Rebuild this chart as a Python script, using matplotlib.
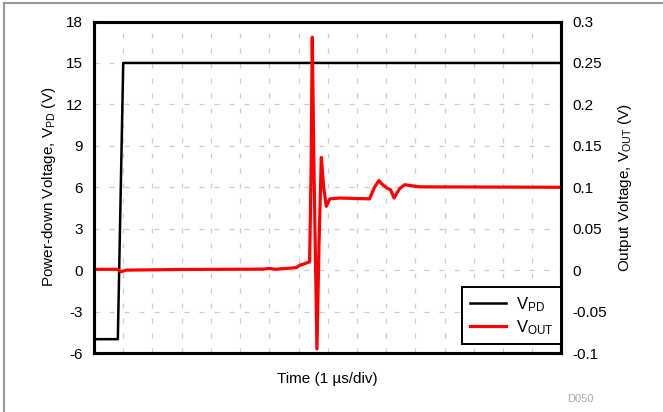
import matplotlib
matplotlib.use("Agg")
import matplotlib.pyplot as plt
from matplotlib.lines import Line2D

plt.rcParams['font.family'] = ['Liberation Sans', 'DejaVu Sans']
plt.rcParams['mathtext.default'] = 'regular'
plt.rcParams['axes.unicode_minus'] = False

# time axis in divisions (1 us/div)
t_pd = [0, 0.815, 1.0, 16]
v_pd = [-5, -5, 15, 15]

t_out = [0, 0.8, 0.93, 1.1, 3.0, 5.8, 6.0, 6.2, 6.92, 7.05, 7.15, 7.38, 7.43, 7.47,
         7.53, 7.63, 7.70, 7.78, 7.86, 7.95, 8.07, 8.4, 9.43, 9.6, 9.75, 9.85,
         10.03, 10.15, 10.27, 10.45, 10.63, 11.15, 16]
v_out = [0.001, 0.001, -0.002, 0.0, 0.0008, 0.0012, 0.002, 0.001, 0.003, 0.006, 0.007, 0.010, 0.12, 0.281,
         0.12, -0.095, 0.03, 0.136, 0.10, 0.077, 0.086, 0.087, 0.086, 0.100, 0.108, 0.104,
         0.099, 0.097, 0.087, 0.098, 0.103, 0.1005, 0.100]

left_ticks = list(range(-6, 19, 3))
right_ticks = [-0.1, -0.05, 0, 0.05, 0.1, 0.15, 0.2, 0.25, 0.3]
right_labels = ["-0.1", "-0.05", "0", "0.05", "0.1", "0.15", "0.2", "0.25", "0.3"]

fig = plt.figure(figsize=(6.63, 4.12), dpi=100)
ax = fig.add_axes([0.1418, 0.1432, 0.7051, 0.8046])
ax2 = ax.twinx()

ax.set_xlim(0, 16)
ax.set_ylim(-6, 18)
ax2.set_ylim(-0.1, 0.3)
ax.set_xticks(range(0, 17))
ax.set_xticklabels([])
ax.set_yticks(left_ticks)
ax2.set_yticks(right_ticks)
ax2.set_yticklabels(right_labels)

ax.grid(True, color='#cccccc', linestyle=(0, (4, 8)), linewidth=0.9)
ax.set_axisbelow(True)
ax.tick_params(length=0, labelsize=11, pad=8, colors='black')
ax2.tick_params(length=0, labelsize=11, pad=8)

for a in (ax, ax2):
    for s in a.spines.values():
        s.set_linewidth(2.2)

l1, = ax.plot(t_pd, v_pd, color='black', lw=1.8, label='V$_{PD}$')
l2, = ax2.plot(t_out, v_out, color='#ff0000', lw=2.3, label='V$_{OUT}$')

ax.set_xlabel('Time (1 \u00b5s/div)', fontsize=11, labelpad=6)
ax.set_ylabel('Power-down Voltage, V$_{PD}$ (V)', fontsize=11, labelpad=6)
ax2.set_ylabel('Output Voltage, V$_{OUT}$ (V)', fontsize=11, labelpad=6)

leg = ax2.legend(handles=[l1, l2], loc='lower right', fontsize=12,
                 fancybox=False, framealpha=1, edgecolor='black',
                 borderaxespad=0, handlelength=2.2, handletextpad=0.6,
                 labelspacing=0.25, borderpad=0.45,
                 bbox_to_anchor=(1.0, 0.027))
leg.get_frame().set_linewidth(1.4)

fig.text(0.855, 0.025, 'D050', fontsize=8, color='#aaaaaa')

# light frame around the figure
fig.add_artist(Line2D([4 / 663, 4 / 663], [0, 1 - 3 / 412], color='#999999', lw=1.5))
fig.add_artist(Line2D([4 / 663, 1], [1 - 3 / 412, 1 - 3 / 412], color='#999999', lw=1.5))

fig.savefig('out.png', dpi=100)
